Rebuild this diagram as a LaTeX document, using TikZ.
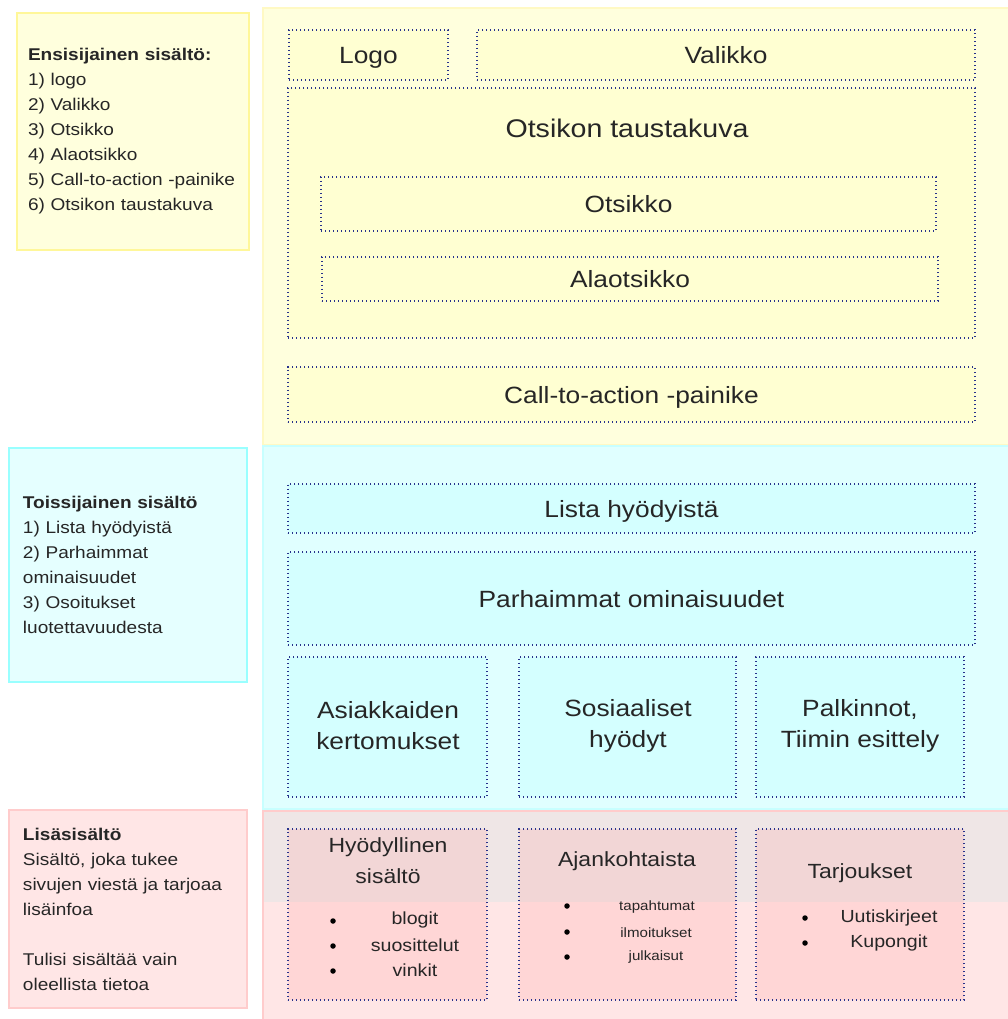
\documentclass[tikz,border=0pt]{standalone}
\usepackage{fontspec}
\setmainfont{Liberation Sans}[FakeStretch=1.12]
\definecolor{yfill}{HTML}{FFFFDD}
\definecolor{yline}{HTML}{FFF799}
\definecolor{ypanel}{HTML}{FFFFDD}
\definecolor{ypline}{HTML}{FFF9C4}
\definecolor{cfill}{HTML}{E5FFFF}
\definecolor{cline}{HTML}{99FFFF}
\definecolor{cpanel}{HTML}{E0FFFF}
\definecolor{cpline}{HTML}{C8FFFF}
\definecolor{cinner}{HTML}{D4FFFF}
\definecolor{yinner}{HTML}{FFFFD2}
\definecolor{pfill}{HTML}{FFE6E6}
\definecolor{pline}{HTML}{FFCCCC}
\definecolor{pinner}{HTML}{FF9999}
\definecolor{band}{HTML}{E1E6E6}
\definecolor{dotc}{HTML}{28328C}
\definecolor{txt}{HTML}{262626}
\begin{document}
\begin{tikzpicture}[x=1pt,y=-1pt,
  dotbox/.style={draw=dotc, line width=1.4pt, dash pattern=on 1.3pt off 2.7pt,
    inner sep=0pt, align=center, text=txt, text depth=0pt, font=\fontsize{23.5}{31}\selectfont},
  leftbox/.style={line width=2pt, inner xsep=11pt, inner ysep=0pt, align=left,
    text=txt, font=\fontsize{17}{25}\selectfont, text width=210pt},
  lbl/.style={text=txt, inner sep=0pt, align=center, font=\fontsize{23.5}{31}\selectfont},
  ptitle/.style={text=txt, inner sep=0pt, align=center, font=\fontsize{20.5}{31}\selectfont},
  item/.style={text=txt, inner sep=0pt, font=\fontsize{17.5}{20}\selectfont},
  sitem/.style={text=txt, inner sep=0pt, font=\fontsize{13.5}{15}\selectfont},
  dot/.style={circle, fill=black, inner sep=0pt, minimum size=5.5pt},
  pbox/.style={dotbox, fill=pinner, fill opacity=0.2, draw opacity=1, text opacity=1}
]
\useasboundingbox (0,0) rectangle (1008,1019);
\fill[white] (0,0) rectangle (1008,1019);

% right panels
\draw[ypline, fill=ypanel, line width=2pt] (263,8) rectangle (1012,445);
\draw[cpline, fill=cpanel, line width=2pt] (263,446) rectangle (1012,809);
\draw[pline, fill=pfill, line width=2pt] (263,811) rectangle (1012,1023);
\fill[band, opacity=0.5] (264,812) rectangle (1008,902);

% left boxes
\node[leftbox, draw=yline, fill=yfill, minimum width=230pt, minimum height=237pt] (prim) at (133,131.5)
 {\textbf{Ensisijainen sisältö:}\\1) logo\\2) Valikko\\3) Otsikko\\4) Alaotsikko\\5) Call-to-action -painike\\6) Otsikon taustakuva};
\node[leftbox, draw=cline, fill=cfill, minimum width=238pt, minimum height=234pt] (sec) at (128,565)
 {\textbf{Toissijainen sisältö}\\1) Lista hyödyistä\\2) Parhaimmat\\ominaisuudet\\3) Osoitukset\\luotettavuudesta};
\node[leftbox, draw=pline, fill=pfill, minimum width=238pt, minimum height=198pt] (add) at (128,909)
 {\textbf{Lisäsisältö}\\Sisältö, joka tukee\\sivujen viestä ja tarjoaa\\lisäinfoa\\[25pt]Tulisi sisältää vain\\oleellista tietoa};

% yellow section
\node[dotbox, fill=yinner, minimum width=159pt, minimum height=50pt] (logo) at (368.5,55) {Logo};
\node[dotbox, fill=yinner, minimum width=498pt, minimum height=50pt] (valikko) at (726,55) {Valikko};
\node[dotbox, fill=yinner, minimum width=687pt, minimum height=250pt] (tausta) at (631.5,213) {};
\node[lbl, font=\fontsize{25.5}{31}\selectfont] (taustat) at (627,128) {Otsikon taustakuva};
\node[dotbox, fill=yinner, minimum width=615pt, minimum height=54pt] (otsikko) at (628.5,204) {Otsikko};
\node[dotbox, fill=yinner, minimum width=616pt, minimum height=44pt] (alaotsikko) at (630,279) {Alaotsikko};
\node[dotbox, fill=yinner, minimum width=687pt, minimum height=55pt] (cta) at (631.5,394.5) {Call-to-action -painike};

% cyan section
\node[dotbox, fill=cinner, minimum width=687pt, minimum height=49pt] (lista) at (631.5,508.5) {Lista hyödyistä};
\node[dotbox, fill=cinner, minimum width=687pt, minimum height=93pt] (parh) at (631.5,598.5) {Parhaimmat ominaisuudet};
\node[dotbox, fill=cinner, minimum width=199pt, minimum height=140pt] (asiak) at (387.5,727) {};
\node[dotbox, fill=cinner, minimum width=217pt, minimum height=140pt] (sosi) at (627.5,727) {};
\node[dotbox, fill=cinner, minimum width=208pt, minimum height=140pt] (palk) at (860,727) {};
\node[lbl] (asiakt) at (388,726) {Asiakkaiden\\kertomukset};
\node[lbl] (sosit) at (628,726) {Sosiaaliset\\hyödyt};
\node[lbl] (palkt) at (860,726) {Palkinnot,\\Tiimin esittely};

% pink section
\node[pbox, minimum width=199pt, minimum height=171pt] (hyod) at (387.5,914.5) {};
\node[pbox, minimum width=217pt, minimum height=171pt] (ajan) at (627.5,914.5) {};
\node[pbox, minimum width=208pt, minimum height=171pt] (tarj) at (860,914.5) {};

\node[ptitle] (hyodt) at (388,861) {Hyödyllinen\\sisältö};
\node[dot] (d1) at (333,921) {};
\node[dot] (d2) at (333,946) {};
\node[dot] (d3) at (333,971) {};
\node[item] (i1) at (415,920) {blogit};
\node[item] (i2) at (415,945) {suosittelut};
\node[item] (i3) at (415,970) {vinkit};

\node[ptitle] (ajant) at (627,861) {Ajankohtaista};
\node[dot] (e1) at (567,906) {};
\node[dot] (e2) at (567,932) {};
\node[dot] (e3) at (567,957) {};
\node[sitem] (j1) at (657,907) {tapahtumat};
\node[sitem] (j2) at (656,933) {ilmoitukset};
\node[sitem] (j3) at (656,957) {julkaisut};

\node[ptitle] (tarjt) at (860,873) {Tarjoukset};
\node[dot] (f1) at (805,918) {};
\node[dot] (f2) at (805,943) {};
\node[item] (k1) at (889,918) {Uutiskirjeet};
\node[item] (k2) at (889,943) {Kupongit};
\end{tikzpicture}
\end{document}
